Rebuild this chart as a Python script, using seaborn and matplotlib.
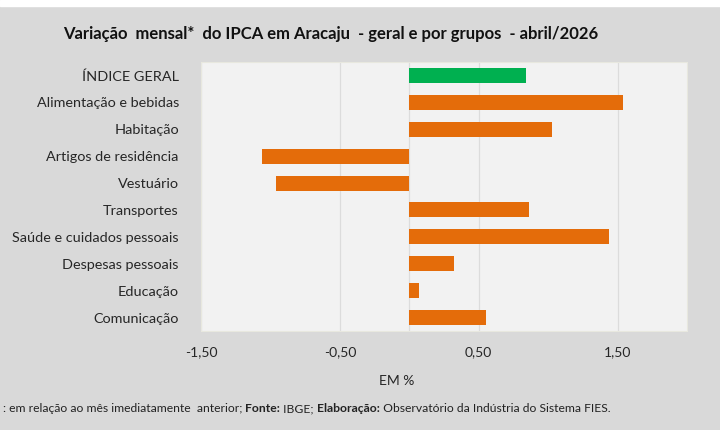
import matplotlib
matplotlib.use("Agg")
import matplotlib.pyplot as plt
import seaborn as sns
import pandas as pd

categories = ["ÍNDICE GERAL", "Alimentação e bebidas", "Habitação", "Artigos de residência",
              "Vestuário", "Transportes", "Saúde e cuidados pessoais", "Despesas pessoais",
              "Educação", "Comunicação"]
values = [0.84, 1.54, 1.03, -1.06, -0.96, 0.86, 1.44, 0.32, 0.07, 0.55]
tick_values = [-1.5, -0.5, 0.5, 1.5]
tick_labels = ["-1,50", "-0,50", "0,50", "1,50"]

GREEN = "#00b050"
ORANGE = "#e46c0a"
palette = {c: (GREEN if i == 0 else ORANGE) for i, c in enumerate(categories)}

sns.set_theme(style="white")
plt.rcParams["font.family"] = ["Lato", "DejaVu Sans"]

df = pd.DataFrame({"cat": categories, "val": values})

fig = plt.figure(figsize=(7.2, 4.3), dpi=100)
fig.patch.set_facecolor("#d9d9d9")
ax = fig.add_axes([201/720, 1-331/430, 486/720, 269/430])
ax.set_facecolor("#f2f2f2")

# white band at very top
fig.patches.append(plt.Rectangle((0, 1-6/430), 1, 6/430, transform=fig.transFigure,
                                 color="white", zorder=0))

sns.barplot(data=df, y="cat", x="val", hue="cat", palette=palette, legend=False,
            orient="h", width=0.56, saturation=1, ax=ax, zorder=3)
for p in ax.patches:
    p.set_edgecolor("none")

ax.set_xlim(-1.5, 2.0)
ax.set_xticks(tick_values)
ax.set_xticklabels(tick_labels, fontsize=10, color="#262626")
ax.tick_params(axis="x", length=0, pad=11)
ax.tick_params(axis="y", length=0, pad=16, labelsize=10.4, labelcolor="#262626")
ax.set_ylabel("")
ax.set_xlabel("EM %", fontsize=10, color="#262626", va="center")
ax.xaxis.set_label_coords((397-201)/486, -(381-331)/269)
ax.xaxis.grid(True, color="#dcdcdc", linewidth=0.9, zorder=0)
ax.set_axisbelow(True)
ax.axvline(0, color="#dcdcdc", linewidth=0.9, zorder=1)
for s in ax.spines.values():
    s.set_visible(True)
    s.set_color("#e8e8df")
    s.set_linewidth(0.8)

fig.text(63/720, 1-34/430, "Variação  mensal*  do IPCA em Aracaju  - geral e por grupos  - abril/2026",
         fontsize=12, fontweight="bold", color="#111111", va="center", ha="left")

parts = [(": em relação ao mês imediatamente  anterior; ", "normal"),
         ("Fonte:", "bold"), (" IBGE; ", "normal"),
         ("Elaboração:", "bold"), (" Observatório da Indústria do Sistema FIES.", "normal")]
prev = None
for txt, w in parts:
    if prev is None:
        prev = fig.text(3/720, 1-412/430, txt, fontsize=8.7, fontweight=w,
                        color="#222222", va="baseline", ha="left")
    else:
        prev = ax.annotate(txt, xy=(1, 0), xycoords=prev, fontsize=8.7, fontweight=w,
                           color="#222222", va="bottom", ha="left", annotation_clip=False)

fig.savefig("out.png", dpi=100, facecolor=fig.get_facecolor())
